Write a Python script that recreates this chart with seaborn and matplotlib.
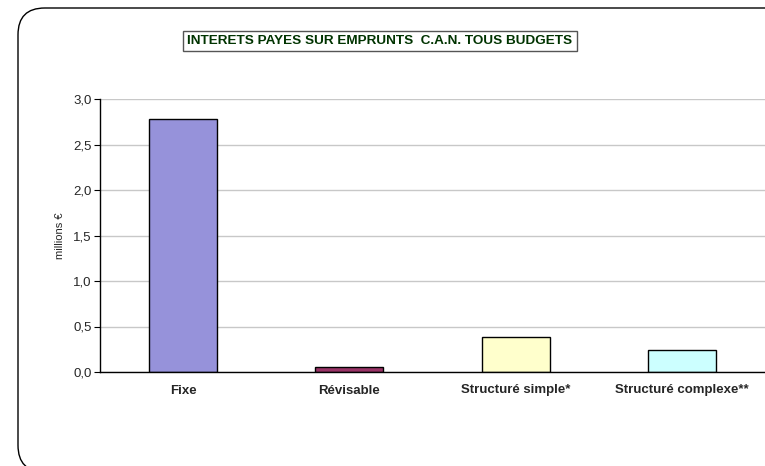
import matplotlib
matplotlib.use("Agg")
import matplotlib.pyplot as plt
import seaborn as sns
import pandas as pd
from matplotlib.patches import FancyBboxPatch
from matplotlib.ticker import FixedLocator

# data
categories = ["Fixe", "Révisable", "Structuré simple*", "Structuré complexe**"]
values = [2.78, 0.05, 0.38, 0.24]
colors = ["#9692DA", "#993366", "#FFFFCC", "#CCFFFF"]
yticks = [0.0, 0.5, 1.0, 1.5, 2.0, 2.5, 3.0]

df = pd.DataFrame({"cat": categories, "val": values})

sns.set_style("white")
plt.rcParams["font.family"] = ["Liberation Sans", "DejaVu Sans"]

fig = plt.figure(figsize=(7.65, 4.66), dpi=100)

# rounded chart frame (runs off the right and bottom edges)
frame = FancyBboxPatch((18 / 765, -6 / 466), 1.2, 1 - 2 / 466,
                       boxstyle="round,pad=0,rounding_size=0.035",
                       transform=fig.transFigure, fill=False,
                       edgecolor="black", linewidth=1.0, mutation_aspect=765 / 466)
fig.patches.append(frame)

ax = fig.add_axes([100 / 765, 1 - 372 / 466, 665 / 765, 273 / 466])
sns.barplot(data=df, x="cat", y="val", hue="cat", palette=colors, legend=False,
            width=0.41, edgecolor="black", linewidth=1.0, saturation=1, ax=ax)

ax.set_xlim(-0.5, 3.5)
ax.set_ylim(0, 3.0)
ax.set_yticks(yticks)
ax.set_yticklabels([f"{v:.1f}".replace(".", ",") for v in yticks], fontsize=9.5)
ax.grid(axis="y", color="#C8C8C8", linewidth=1.0)
ax.set_axisbelow(True)

ax.set_xticks(range(len(categories)))
ax.set_xticklabels(categories, fontsize=9.5, fontweight="bold")
ax.xaxis.set_minor_locator(FixedLocator([0.5, 1.5, 2.5, 3.5]))
ax.tick_params(axis="x", which="major", length=0, pad=9)
ax.tick_params(axis="x", which="minor", length=4, direction="out", color="black")
ax.tick_params(axis="y", length=4, direction="out", color="black", pad=2, left=True)

for s in ["top", "right"]:
    ax.spines[s].set_visible(False)
for s in ["left", "bottom"]:
    ax.spines[s].set_color("black")
    ax.spines[s].set_linewidth(1.0)

ax.set_xlabel("")
ax.set_ylabel("millions €", fontsize=8, labelpad=6)

fig.text(380 / 765, 1 - 41 / 466, "INTERETS PAYES SUR EMPRUNTS  C.A.N. TOUS BUDGETS",
         ha="center", va="center", fontsize=9.7, fontweight="bold", color="#003300",
         bbox=dict(boxstyle="square,pad=0.3", facecolor="white", edgecolor="#555555",
                   linewidth=1.0))

fig.savefig("out.png", dpi=100)
